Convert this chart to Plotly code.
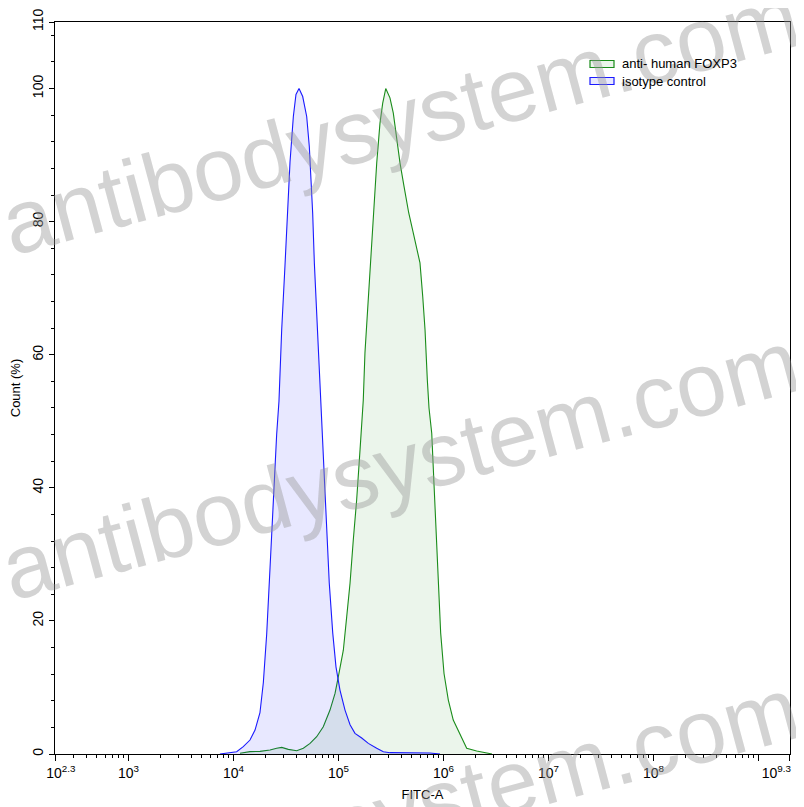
import plotly.graph_objects as go

# ---- data (log10 of FITC-A intensity, count %) ----
iso_log10 = [3.871, 3.967, 4.030, 4.093, 4.157, 4.205, 4.252, 4.284, 4.316, 4.348,
             4.379, 4.411, 4.433, 4.459, 4.490, 4.512, 4.538, 4.570, 4.595, 4.624,
             4.659, 4.697, 4.722, 4.738, 4.754, 4.770, 4.792, 4.814, 4.833, 4.855,
             4.888, 4.912, 4.945, 4.976, 5.014, 5.062, 5.110, 5.157, 5.221, 5.284,
             5.364, 5.427, 5.490, 5.614, 5.871, 5.967]
iso_count = [0.0, 0.2, 0.35, 1.1, 2.1, 3.6, 6.2, 10.7, 18.0, 28.0,
             38.0, 48.0, 53.0, 63.8, 73.3, 81.3, 88.9, 95.8, 99.1, 100.0,
             98.8, 95.8, 91.3, 86.3, 81.3, 73.8, 66.3, 58.8, 53.0, 43.2,
             33.2, 25.7, 18.2, 13.1, 9.6, 6.6, 4.4, 3.1, 2.4, 1.6,
             0.86, 0.35, 0.2, 0.2, 0.15, 0.0]

foxp3_log10 = [4.062, 4.157, 4.252, 4.348, 4.411, 4.459, 4.522, 4.602, 4.665, 4.729,
               4.792, 4.855, 4.919, 4.967, 4.998, 5.046, 5.078, 5.110, 5.141, 5.173,
               5.205, 5.236, 5.252, 5.284, 5.316, 5.338, 5.364, 5.395, 5.421, 5.450,
               5.490, 5.522, 5.554, 5.586, 5.624, 5.669, 5.712, 5.750, 5.776, 5.802,
               5.824, 5.846, 5.862, 5.888, 5.910, 5.929, 5.950, 5.973, 6.005, 6.046,
               6.093, 6.157, 6.221, 6.316, 6.411, 6.462]
foxp3_count = [0.1, 0.35, 0.4, 0.6, 0.86, 1.0, 0.7, 0.5, 0.86, 1.6,
               2.6, 4.1, 6.6, 9.1, 11.6, 15.6, 20.6, 25.7, 32.2, 38.2,
               45.7, 53.2, 60.3, 68.8, 76.3, 82.3, 88.8, 94.8, 97.8, 100.0,
               98.6, 96.3, 92.3, 88.8, 85.3, 81.3, 78.3, 75.8, 73.8, 68.8,
               63.8, 56.2, 52.0, 48.2, 40.7, 33.2, 25.7, 18.2, 12.1, 8.1,
               5.1, 2.9, 0.86, 0.45, 0.2, 0.0]

x_tick_exps = [2.3, 3, 4, 5, 6, 7, 8, 9, 9.3]
NB = "\u00a0"
x_tick_labels = [NB * 3 + "10<sup>2.3</sup>", "10<sup>3</sup>", "10<sup>4</sup>", "10<sup>5</sup>",
                 "10<sup>6</sup>", "10<sup>7</sup>", "10<sup>8</sup>", "", "10<sup>9.3</sup>" + NB * 7]
y_tick_vals = [0, 20, 40, 60, 80, 100, 110]
series_names = ["anti- human FOXP3", "isotype control"]
series_line_colors = ["#1a8c1a", "#1a1aff"]
series_fill_colors = ["rgba(0,128,0,0.08)", "rgba(0,0,255,0.09)"]
watermark = "antibodysystem.com"

FONT = "Liberation Sans, Arial, sans-serif"

# The page body has an 8px margin, so the figure sits at (8, 8) in the window.
OFF = 8
W, H = 804 - OFF, 807 - OFF
# desired plot area in window pixels: x 55..790, y 22..754
L, R, T, B = 55 - OFF, 804 - 790, 22 - OFF, 807 - 754
PW, PH = W - L - R, H - T - B


def px_x(px):  # window pixel -> paper x
    return (px - OFF - L) / PW


def px_y(py):  # window pixel -> paper y
    return (H - B - (py - OFF)) / PH


fig = go.Figure()
fig.add_trace(go.Scatter(
    x=[10 ** v for v in foxp3_log10], y=foxp3_count, mode="lines",
    name=series_names[0], fill="tozeroy", showlegend=False,
    line=dict(color=series_line_colors[0], width=1.1),
    fillcolor=series_fill_colors[0],
))
fig.add_trace(go.Scatter(
    x=[10 ** v for v in iso_log10], y=iso_count, mode="lines",
    name=series_names[1], fill="tozeroy", showlegend=False,
    line=dict(color=series_line_colors[1], width=1.1),
    fillcolor=series_fill_colors[1],
))

minor_vals = []
for d in range(2, 10):
    for m in range(2, 10):
        v = m * 10 ** d
        if 10 ** 2.3 < v < 10 ** 9.3:
            minor_vals.append(v)

fig.update_xaxes(
    type="log", range=[2.2999, 9.3001], automargin=False,
    tickmode="array", tickvals=[10 ** e for e in x_tick_exps], ticktext=x_tick_labels,
    ticklabeloverflow="allow",
    ticks="outside", ticklen=6, tickcolor="black", tickwidth=1,
    minor=dict(tickmode="array", tickvals=minor_vals, ticks="outside", ticklen=3,
               tickcolor="black", tickwidth=1, showgrid=False),
    showline=True, linecolor="black", linewidth=1, mirror=True,
    showgrid=False, zeroline=False,
    tickfont=dict(family=FONT, size=14, color="black"),
    title=dict(text="FITC-A", font=dict(family=FONT, size=13, color="black"), standoff=10),
)
fig.update_yaxes(
    range=[0, 110], automargin=False,
    tickmode="array", tickvals=y_tick_vals, tickangle=-90,
    ticklabeloverflow="allow",
    ticks="outside", ticklen=5, tickcolor="black", tickwidth=1,
    minor=dict(dtick=4, tick0=0, ticks="outside", ticklen=3, tickcolor="black",
               tickwidth=1, showgrid=False),
    showline=True, linecolor="black", linewidth=1, mirror=True,
    showgrid=False, zeroline=False,
    tickfont=dict(family=FONT, size=14, color="black"),
    title=dict(text="Count (%)", font=dict(family=FONT, size=13, color="black"), standoff=8),
)

annotations = []
for cx, cy in [(400, 120), (400, 465), (400, 812)]:
    annotations.append(dict(
        text=watermark, xref="paper", yref="paper", x=px_x(cx), y=px_y(cy),
        showarrow=False, textangle=-15,
        font=dict(family=FONT, size=90, color="rgba(150,150,150,0.42)"),
        xanchor="center", yanchor="middle",
    ))

# custom legend (outlined swatches like the reference)
shapes = []
for i, (name, lc, fc) in enumerate(zip(series_names, series_line_colors, series_fill_colors)):
    cy = 64 + 17 * i
    shapes.append(dict(type="rect", xref="paper", yref="paper",
                       x0=px_x(590), x1=px_x(614), y0=px_y(cy - 3.5), y1=px_y(cy + 3.5),
                       line=dict(color=lc, width=1.2), fillcolor=fc))
    annotations.append(dict(text=name, xref="paper", yref="paper",
                            x=px_x(620), y=px_y(cy), xanchor="left", yanchor="middle",
                            showarrow=False,
                            font=dict(family=FONT, size=13, color="black")))

fig.update_layout(
    width=W, height=H,
    margin=dict(l=L, r=R, t=T, b=B),
    paper_bgcolor="white", plot_bgcolor="white",
    showlegend=False,
    annotations=annotations,
    shapes=shapes,
)

fig.write_html("out.html")
